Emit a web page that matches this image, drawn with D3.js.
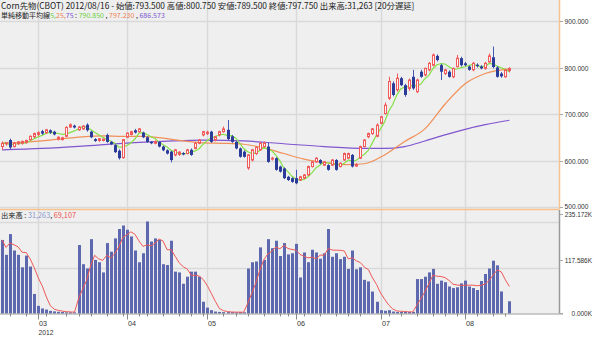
<!DOCTYPE html>
<html>
<head>
<meta charset="utf-8">
<script src="https://cdn.jsdelivr.net/npm/d3@7"></script>
<style>
  html, body { margin: 0; padding: 0; background: #fff; }
  svg { display: block; font-family: "Noto Sans CJK JP", "Liberation Sans", sans-serif; }
  .pre { white-space: pre; }
</style>
</head>
<body>
<svg id="chart" width="600" height="337"></svg>
<script>
// ---- Corn futures (CBOT), daily, 2012-02-16 .. 2012-08-16 ----
const firstDay = "2012-02-16";
const lastDay = "2012-08-16";
const holidays = ["2012-02-20", "2012-04-06", "2012-05-28", "2012-07-04"];

// [open, high, low, close] for each trading day
const ohlc = [
  [630,641,623,637],[636,640,632,638],[644,647,624,628],[630,640,628,637],[636,642,634,640],
  [637,643,634,641],[639,645,636,643],[645,654,643,652],[651,660,648,658],[656,663,652,660],
  [663,666,655,658],[660,668,657,666],[665,667,657,660],[662,664,654,656],[646,652,643,650],
  [645,651,643,649],[652,674,650,671],[672,680,670,677],[675,677,669,671],[666,674,664,672],
  [668,676,666,674],[677,680,662,665],[662,664,648,650],[646,648,640,642],[643,648,640,647],
  [643,647,641,646],[655,658,638,640],[640,642,633,635],[633,636,616,618],[621,624,602,605],
  [606,646,604,645],[650,660,648,659],[656,664,654,662],[665,668,658,660],[662,670,660,668],
  [660,662,648,650],[650,652,638,640],[640,642,635,637],[637,643,635,641],[640,642,628,630],
  [630,632,620,622],[622,624,613,615],[619,621,596,601],[612,625,609,623],[613,620,610,618],
  [616,618,611,613],[615,625,613,623],[623,626,610,612],[626,640,624,637],[637,646,635,644],
  [655,664,652,662],[658,664,655,661],[662,664,638,640],[644,653,641,651],[655,664,652,662],
  [662,673,660,668],[666,687,644,646],[652,655,638,640],[640,642,624,626],[626,628,606,608],
  [619,622,606,608],[584,614,580,612],[601,625,598,623],[615,630,612,628],[623,640,621,637],
  [630,641,628,638],[630,638,595,597],[603,608,600,605],[605,607,578,580],[587,589,574,576],
  [583,585,560,562],[565,567,556,558],[562,564,552,554],[562,580,549,551],[558,567,556,565],
  [562,571,560,569],[569,589,567,587],[587,599,585,597],[597,607,595,605],[601,603,592,594],
  [590,599,588,597],[590,592,578,580],[590,603,588,601],[601,603,578,580],[587,596,585,594],
  [601,617,599,615],[605,617,603,615],[612,614,585,587],[588,594,586,592],[605,632,603,630],
  [630,646,628,644],[651,660,648,658],[658,670,655,668],[652,680,650,676],[680,696,678,694],
  [701,725,699,719],[734,780,730,770],[766,770,738,741],[752,787,748,777],[777,780,760,762],
  [762,765,737,741],[755,776,750,773],[780,795,752,755],[748,776,745,773],[791,795,778,780],
  [784,800,781,798],[795,812,792,809],[805,830,802,827],[825,828,813,816],[805,808,773,791],
  [787,797,784,795],[791,794,778,780],[780,800,777,798],[802,827,800,820],[820,823,802,805],
  [809,812,803,805],[802,804,793,795],[795,812,792,809],[806,809,800,803],[802,805,796,798],
  [798,812,795,809],[812,830,810,825],[822,845,798,801],[800,803,778,780],[787,790,778,781],
  [780,797,778,794.5],[793.5,800.75,789.5,797.75]
];

// contracts traded per day
const volume = [
  188000,150000,203000,161000,150000,118000,148000,120000,50000,19500,
  12800,10000,6700,5400,4400,4000,3000,3000,3000,175000,
  126000,115000,190000,137000,131000,105000,180000,158000,192000,216000,
  225000,214000,197000,161000,131000,154000,235172,184000,192000,188000,
  126000,124000,186000,107000,105000,76000,94000,107000,107000,94000,
  30000,15000,8500,5000,4000,3500,3500,3500,3000,3500,
  3000,115000,131000,133000,169000,137000,190000,167000,186000,147000,
  180000,151000,154000,178000,92000,156000,131000,163000,156000,140000,
  154000,216000,145000,154000,139000,145000,114000,161000,113000,118000,
  86000,82000,56000,30000,8500,7000,8500,5000,4000,4000,
  4000,4000,4000,88000,88000,94000,105000,114000,76000,84000,
  80000,69000,65000,67000,77000,84000,69000,65000,60000,83000,
  101000,115000,135000,123000,56272,0,31263
];

// 25- and 75-day simple moving averages, [day index, value]
const ma25Points = [
  [0,638],[5,639],[10,642],[15,647],[20,651],[25,653],[30,652],[35,652],[40,648],[45,642],
  [50,638],[55,637],[60,635],[65,627],[70,615],[75,603],[80,596],[85,591],[90,593],[95,612],
  [100,641],[105,668],[110,721],[115,765],[120,787],[126,797.23]
];
const ma75Points = [
  [0,623],[10,626],[20,631],[30,637],[40,641],[50,644],[60,642],[70,636],[80,630],[90,626],
  [95,626],[100,630],[105,642],[110,655],[115,667],[120,677],[126,686.573]
];

const priceTicks = [500, 600, 700, 800, 900];
const volumeTicks = [0, 117586, 235172];
const maPeriods = [5, 25, 75];

// ---- trading calendar ----
const fmtDay = d3.timeFormat("%Y-%m-%d");
const parseDay = d3.timeParse("%Y-%m-%d");
const dates = d3.timeDay.range(parseDay(firstDay), d3.timeDay.offset(parseDay(lastDay), 1))
  .filter(d => d.getDay() !== 0 && d.getDay() !== 6 && !holidays.includes(fmtDay(d)));
const n = ohlc.length;

// moving averages computed from the series itself
function sma(values, period) {
  return values.map((v, i) => d3.mean(values.slice(Math.max(0, i - period + 1), i + 1)));
}
const closes = ohlc.map(d => d[3]);
const ma5 = sma(closes, maPeriods[0]);
const volMa5 = sma(volume, 5);

// ---- layout ----
const svg = d3.select("#chart");
const plotRight = 559;
const priceBottom = 209;
const volBottom = 313.5;

const x = d3.scaleBand().domain(d3.range(n)).range([0, n * 4.027])
  .paddingInner(0.25).paddingOuter(0.125);
const cx = i => x(i) + x.bandwidth() / 2;
const y = d3.scaleLinear().domain([500, 900]).range([207, 21]);
const yv = d3.scaleLinear().domain([0, 235172]).range([volBottom, 221.5]);

const font = "Noto Sans CJK JP";
const axisFont = "Liberation Sans";

// Writes a run of coloured pieces as separate text elements laid end to end;
// the font size is chosen so the whole run is about `width` pixels wide.
function textRun(g, x0, yMid, pieces, width, size) {
  const nodes = pieces.map(p => g.append("text").attr("class", "pre")
    .attr("font-family", font).attr("font-size", size)
    .attr("fill", p.color || "#222").attr("y", yMid).attr("dy", "0.35em").text(p.text));
  const total = d3.sum(nodes, t => t.node().getComputedTextLength());
  const fitted = size * width / total;
  nodes.forEach(t => t.attr("font-size", fitted));
  let cur = x0;
  nodes.forEach(t => {
    t.attr("x", cur);
    cur += t.node().getComputedTextLength();
  });
}

// plot background
svg.append("rect").attr("x", 0).attr("y", 0).attr("width", plotRight).attr("height", volBottom)
  .attr("fill", "#efefef");

// month boundaries and the 5th/10th/15th/... day ticks
const monthStarts = d3.range(1, n).filter(i => dates[i].getMonth() !== dates[i - 1].getMonth());
const dayTicks = d3.range(1, n).filter(i =>
  dates[i].getMonth() === dates[i - 1].getMonth() &&
  Math.floor(dates[i].getDate() / 5) > Math.floor(dates[i - 1].getDate() / 5));

const grid = svg.append("g").attr("stroke", "#d9d9d9").attr("stroke-width", 1.5);
monthStarts.forEach(i => {
  const gx = Math.round(cx(i)) + 0.5;
  grid.append("line").attr("x1", gx).attr("x2", gx).attr("y1", 0).attr("y2", volBottom);
});
priceTicks.forEach(p => {
  const gy = Math.round(y(p)) + 0.5;
  grid.append("line").attr("x1", 0).attr("x2", plotRight).attr("y1", gy).attr("y2", gy);
});
volumeTicks.filter(v => v > 0).forEach(v => {
  const gy = Math.round(yv(v)) + 0.5;
  grid.append("line").attr("x1", 0).attr("x2", plotRight).attr("y1", gy).attr("y2", gy);
});

// ---- volume bars ----
svg.append("g").selectAll("rect").data(volume.map((v, i) => ({ v, i })).filter(d => d.v > 0))
  .join("rect")
  .attr("x", d => Math.round(cx(d.i)) - 1)
  .attr("width", 3)
  .attr("y", d => yv(d.v))
  .attr("height", d => volBottom - yv(d.v))
  .attr("fill", "#5d68ae");

svg.append("path").datum(volMa5)
  .attr("fill", "none").attr("stroke", "#f05858").attr("stroke-width", 1)
  .attr("d", d3.line().x((d, i) => cx(i)).y(d => yv(d)));

// ---- moving averages ----
const lineIdx = d3.line().x(d => cx(d[0])).y(d => y(d[1])).curve(d3.curveMonotoneX);
svg.append("path").datum(ma75Points).attr("fill", "none").attr("stroke", "#8055d0").attr("stroke-width", 1.2).attr("d", lineIdx);
svg.append("path").datum(ma25Points).attr("fill", "none").attr("stroke", "#f09058").attr("stroke-width", 1.2).attr("d", lineIdx);
svg.append("path").datum(ma5).attr("fill", "none").attr("stroke", "#86e048").attr("stroke-width", 1.2)
  .attr("d", d3.line().x((d, i) => cx(i)).y(d => y(d)));

// ---- candles ----
const upColor = "#f05a5a", downColor = "#2b3c98", downWick = "#4557b4";
const candles = svg.append("g").selectAll("g")
  .data(ohlc.map((d, i) => ({ o: d[0], h: d[1], l: d[2], c: d[3], i })))
  .join("g");
candles.append("line")
  .attr("x1", d => Math.round(cx(d.i)) + 0.5).attr("x2", d => Math.round(cx(d.i)) + 0.5)
  .attr("y1", d => y(d.h)).attr("y2", d => y(d.l))
  .attr("stroke", d => d.c >= d.o ? upColor : downWick).attr("stroke-width", 1);
candles.filter(d => d.c >= d.o).append("rect")
  .attr("x", d => Math.round(cx(d.i)) - 0.5).attr("width", 2)
  .attr("y", d => y(d.c)).attr("height", d => Math.max(1, y(d.o) - y(d.c)))
  .attr("fill", "#fbf2f2").attr("stroke", upColor).attr("stroke-width", 1);
candles.filter(d => d.c < d.o).append("rect")
  .attr("x", d => Math.round(cx(d.i)) - 1).attr("width", 3)
  .attr("y", d => y(d.o)).attr("height", d => Math.max(1, y(d.c) - y(d.o)))
  .attr("fill", downColor);

// ---- frame ----
svg.append("line").attr("x1", 0).attr("x2", plotRight + 0.5).attr("y1", priceBottom + 0.5).attr("y2", priceBottom + 0.5)
  .attr("stroke", "#f6c38e").attr("stroke-width", 1.5);
svg.append("line").attr("x1", plotRight + 0.5).attr("x2", plotRight + 0.5).attr("y1", 0).attr("y2", priceBottom)
  .attr("stroke", "#f6c38e").attr("stroke-width", 1.5);
svg.append("line").attr("x1", plotRight + 0.5).attr("x2", plotRight + 0.5).attr("y1", priceBottom + 1).attr("y2", volBottom)
  .attr("stroke", "#9a9a9a").attr("stroke-width", 1.5);
svg.append("line").attr("x1", 0).attr("x2", plotRight + 4).attr("y1", volBottom + 0.5).attr("y2", volBottom + 0.5)
  .attr("stroke", "#9a9a9a").attr("stroke-width", 1);

// ---- right axis labels ----
const fmtPrice = d3.format(".3f");
const rAxis = svg.append("g").attr("font-family", axisFont).attr("font-size", 7).attr("fill", "#333");
priceTicks.forEach(p => {
  const ty = Math.round(y(p)) + 0.5;
  rAxis.append("line").attr("x1", plotRight + 1).attr("x2", plotRight + 4).attr("y1", ty).attr("y2", ty).attr("stroke", "#aaa");
  rAxis.append("text").attr("x", 564.5).attr("y", ty - (p === priceTicks[0] ? 0.5 : 0)).attr("dy", "0.35em")
    .attr("textLength", 24).attr("lengthAdjust", "spacingAndGlyphs").text(fmtPrice(p));
});
volumeTicks.forEach(v => {
  const ty = v > 0 ? Math.round(yv(v)) - 7.5 : volBottom;
  const label = fmtPrice(v / 1000) + "K";
  rAxis.append("line").attr("x1", plotRight + 1).attr("x2", plotRight + 4).attr("y1", ty).attr("y2", ty).attr("stroke", "#aaa");
  rAxis.append("text").attr("x", 592).attr("y", ty).attr("dy", "0.35em").attr("text-anchor", "end")
    .attr("textLength", label.length * 3.4).attr("lengthAdjust", "spacingAndGlyphs").text(label);
});

// ---- bottom axis ----
const bAxis = svg.append("g").attr("font-family", axisFont).attr("font-size", 8).attr("fill", "#333");
monthStarts.forEach(i => {
  const tx = Math.round(cx(i)) + 0.5;
  bAxis.append("line").attr("x1", tx).attr("x2", tx).attr("y1", volBottom).attr("y2", volBottom + 6).attr("stroke", "#888");
  bAxis.append("text").attr("x", tx + 0.5).attr("y", 323.5).attr("dy", "0.35em")
    .attr("textLength", 8).attr("lengthAdjust", "spacingAndGlyphs").text(d3.timeFormat("%m")(dates[i]));
});
dayTicks.forEach(i => {
  const tx = Math.round(cx(i)) + 0.5;
  bAxis.append("line").attr("x1", tx).attr("x2", tx).attr("y1", volBottom).attr("y2", volBottom + 3).attr("stroke", "#888");
});
bAxis.append("text").attr("x", Math.round(cx(monthStarts[0])) + 0.5).attr("y", 332).attr("dy", "0.35em")
  .attr("textLength", 15).attr("lengthAdjust", "spacingAndGlyphs").text(d3.timeFormat("%Y")(dates[monthStarts[0]]));

// ---- header and legends ----
const last = ohlc[n - 1];
const fmtVol = d3.format(",");
const header = svg.append("g");
textRun(header, 1, 6.5, [{
  text: `Corn先物(CBOT) ${d3.timeFormat("%Y/%m/%d")(dates[n - 1])} - 始値:${fmtPrice(last[0])} 高値:${fmtPrice(last[1])} 安値:${fmtPrice(last[2])} 終値:${fmtPrice(last[3])} 出来高:${fmtVol(volume[n - 1])} [20分遅延]`
}], 414, 8.5);

const maColors = ["#6cd040", "#f08050", "#7a55d0"];
const maLast = [ma5[n - 1], ma25Points[ma25Points.length - 1][1], ma75Points[ma75Points.length - 1][1]];
const maPieces = [{ text: "単純移動平均線" }];
maPeriods.forEach((p, k) => maPieces.push({ text: String(p) + (k < 2 ? "," : ""), color: maColors[k] }));
maPieces.push({ text: " : " });
maLast.forEach((v, k) => {
  maPieces.push({ text: fmtPrice(v), color: maColors[k] });
  if (k < 2) maPieces.push({ text: " , " });
});
textRun(header, 1, 16, maPieces, 164, 8.5);

textRun(header, 1, 215, [
  { text: "出来高 : " },
  { text: fmtVol(volume[n - 1]), color: "#8a98cc" },
  { text: ", " },
  { text: fmtVol(Math.round(volMa5[n - 1])), color: "#f05050" }
], 75, 8.5);
</script>
</body>
</html>
